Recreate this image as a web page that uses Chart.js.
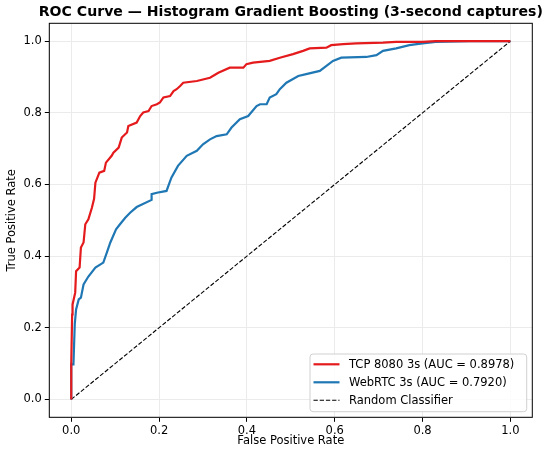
<!DOCTYPE html>
<html>
<head>
<meta charset="utf-8">
<script src="https://cdn.jsdelivr.net/npm/chart.js@4.4.1/dist/chart.umd.min.js"></script>
<style>
html,body{margin:0;padding:0;background:#fff;}
#wrap{width:550px;height:459px;position:relative;}
</style>
</head>
<body>
<div id="wrap"><canvas id="c" width="550" height="459"></canvas></div>
<script>
const TITLE = 'ROC Curve — Histogram Gradient Boosting (3-second captures)';
const X_TITLE = 'False Positive Rate';
const Y_TITLE = 'True Positive Rate';
const TICKS = [0, 0.2, 0.4, 0.6, 0.8, 1.0];

const TCP_LABEL = 'TCP 8080 3s (AUC = 0.8978)';
const TCP_FPR = [0,0,0.002,0.003,0.009,0.011,0.019,0.022,0.028,0.032,0.039,0.047,0.052,0.055,0.064,0.075,0.079,0.092,0.096,0.108,0.115,0.127,0.130,0.149,0.157,0.164,0.176,0.183,0.195,0.202,0.210,0.225,0.233,0.240,0.248,0.255,0.286,0.316,0.335,0.361,0.392,0.399,0.414,0.452,0.475,0.505,0.528,0.543,0.581,0.592,0.619,0.649,0.710,0.740,0.800,0.830,1.0];
const TCP_TPR = [0,0.098,0.237,0.265,0.298,0.358,0.368,0.424,0.438,0.489,0.503,0.535,0.560,0.605,0.633,0.638,0.661,0.680,0.689,0.703,0.731,0.745,0.763,0.773,0.791,0.801,0.805,0.819,0.824,0.829,0.843,0.847,0.861,0.866,0.875,0.884,0.889,0.898,0.912,0.926,0.926,0.936,0.940,0.945,0.954,0.964,0.973,0.980,0.982,0.989,0.992,0.994,0.996,0.998,0.998,1.0,1.0];

const WEB_LABEL = 'WebRTC 3s (AUC = 0.7920)';
const WEB_FPR = [0,0,0.005,0.008,0.011,0.017,0.022,0.028,0.039,0.055,0.073,0.081,0.089,0.102,0.111,0.123,0.134,0.149,0.183,0.183,0.195,0.217,0.228,0.243,0.263,0.286,0.300,0.316,0.331,0.354,0.365,0.384,0.403,0.422,0.430,0.445,0.452,0.467,0.475,0.490,0.517,0.535,0.566,0.596,0.615,0.672,0.695,0.710,0.740,0.770,0.800,0.830,0.907,1.0];
const WEB_TPR = [0,0.098,0.098,0.210,0.251,0.279,0.284,0.321,0.343,0.368,0.382,0.410,0.438,0.475,0.489,0.507,0.521,0.537,0.557,0.573,0.577,0.582,0.619,0.652,0.680,0.694,0.712,0.726,0.735,0.740,0.759,0.782,0.791,0.819,0.824,0.824,0.843,0.852,0.866,0.884,0.903,0.908,0.917,0.945,0.954,0.956,0.961,0.973,0.980,0.989,0.994,0.998,1.0,1.0];

const RAND_LABEL = 'Random Classifier';
const RAND_X = [0, 1];
const RAND_Y = [0, 1];

const toPts = (xs, ys) => xs.map((x, i) => ({x: x, y: ys[i]}));

Chart.defaults.font.family = "'DejaVu Sans', sans-serif";
Chart.defaults.color = '#000';

const titlePlugin = {
  id: 'mplTitle',
  afterDraw(chart) {
    const ctx = chart.ctx, a = chart.chartArea;
    ctx.save();
    ctx.font = "bold 14.1px 'DejaVu Sans'";
    ctx.fillStyle = '#000';
    ctx.textAlign = 'center';
    ctx.textBaseline = 'middle';
    ctx.fillText(TITLE, (a.left + a.right) / 2, 12);
    ctx.restore();
  }
};

const framePlugin = {
  id: 'frame',
  afterDatasetsDraw(chart) {
    const ctx = chart.ctx, a = chart.chartArea;
    ctx.save();
    ctx.strokeStyle = '#000';
    ctx.lineWidth = 1;
    ctx.strokeRect(a.left, a.top, a.right - a.left, a.bottom - a.top);
    ctx.restore();
  }
};

const legendPlugin = {
  id: 'innerLegend',
  afterDraw(chart) {
    const ctx = chart.ctx, a = chart.chartArea;
    const w = 216.7, h = 57.7;
    const x0 = a.right - 5.6 - w, y0 = a.bottom - 5.6 - h;
    ctx.save();
    ctx.beginPath();
    if (ctx.roundRect) ctx.roundRect(x0, y0, w, h, 3); else ctx.rect(x0, y0, w, h);
    ctx.fillStyle = 'rgba(255,255,255,0.85)';
    ctx.fill();
    ctx.strokeStyle = '#d0d0d0';
    ctx.lineWidth = 1;
    ctx.stroke();
    ctx.font = "11.5px 'DejaVu Sans'";
    ctx.textBaseline = 'middle';
    ctx.textAlign = 'left';
    chart.data.datasets.forEach((ds, i) => {
      const yy = y0 + 10.3 + i * 18;
      ctx.beginPath();
      ctx.strokeStyle = ds.borderColor;
      ctx.lineWidth = ds.borderWidth;
      ctx.setLineDash(ds.borderDash || []);
      ctx.moveTo(x0 + 3.5, yy);
      ctx.lineTo(x0 + 29.5, yy);
      ctx.stroke();
      ctx.setLineDash([]);
      ctx.fillStyle = '#000';
      ctx.fillText(ds.label, x0 + 39, yy + 0.5);
    });
    ctx.restore();
  }
};

const fixedTicks = (scale) => { scale.ticks = TICKS.map(v => ({value: v})); };

new Chart(document.getElementById('c'), {
  type: 'scatter',
  data: {
    datasets: [
      {label: TCP_LABEL, data: toPts(TCP_FPR, TCP_TPR), showLine: true, borderColor: '#e41a1c', backgroundColor: '#e41a1c', borderWidth: 2.2, pointRadius: 0, tension: 0},
      {label: WEB_LABEL, data: toPts(WEB_FPR, WEB_TPR), showLine: true, borderColor: '#1f77b4', backgroundColor: '#1f77b4', borderWidth: 2.2, pointRadius: 0, tension: 0},
      {label: RAND_LABEL, data: toPts(RAND_X, RAND_Y), showLine: true, borderColor: '#000', backgroundColor: '#000', borderWidth: 1.1, borderDash: [4.3, 1.9], pointRadius: 0, tension: 0}
    ]
  },
  options: {
    responsive: false,
    animation: false,
    devicePixelRatio: 1,
    layout: {padding: {top: 23.3, right: 17.7, left: 0, bottom: 0}},
    plugins: {legend: {display: false}, tooltip: {enabled: false}, title: {display: false}},
    scales: {
      x: {
        type: 'linear', min: -0.05, max: 1.05,
        afterBuildTicks: fixedTicks,
        afterFit(s) { s.height = 41.7; },
        grid: {color: '#ebebeb', tickColor: '#000', tickLength: 4.5, lineWidth: 1},
        ticks: {font: {size: 11.5}, padding: 2, maxRotation: 0, callback: v => Number(v).toFixed(1)},
        title: {display: true, text: X_TITLE, font: {size: 11.5}, padding: {top: 0, bottom: 11}}
      },
      y: {
        type: 'linear', min: -0.05, max: 1.05,
        afterBuildTicks: fixedTicks,
        afterFit(s) { s.width = 49.3; },
        grid: {color: '#ebebeb', tickColor: '#000', tickLength: 4.5, lineWidth: 1},
        ticks: {font: {size: 11.5}, padding: 3, callback: v => Number(v).toFixed(1)},
        title: {display: true, text: Y_TITLE, font: {size: 11.5}, padding: {top: 5.4, bottom: 0}}
      }
    }
  },
  plugins: [framePlugin, legendPlugin, titlePlugin]
});
</script>
</body>
</html>
